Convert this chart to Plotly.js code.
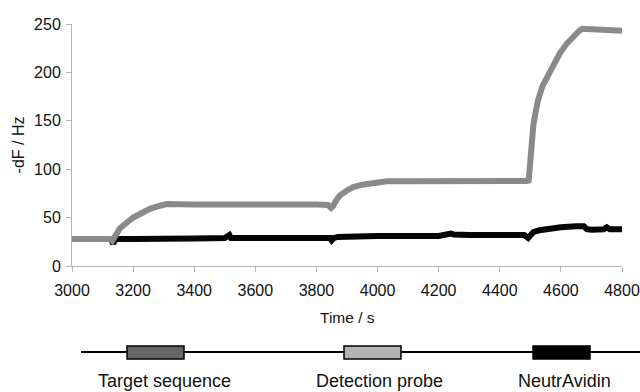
<!DOCTYPE html>
<html>
<head>
<meta charset="utf-8">
<script src="https://cdn.plot.ly/plotly-3.0.1.min.js"></script>
<style>html,body{margin:0;padding:0;background:#fff;}#chart{width:640px;height:392px;}</style>
</head>
<body>
<div id="chart"></div>
<script>
// Sensor response (gray) : time (s) and -dF (Hz)
var grayTime = [3000, 3050, 3100, 3125, 3132, 3140, 3157, 3180, 3200, 3230, 3255, 3285, 3310, 3400, 3500, 3600, 3700, 3800, 3838, 3848, 3855, 3865, 3877, 3900, 3920, 3950, 3975, 4000, 4030, 4100, 4200, 4300, 4400, 4490, 4494, 4497, 4500, 4505, 4510, 4518, 4525, 4540, 4554, 4575, 4597, 4620, 4640, 4660, 4670, 4700, 4750, 4800];
var grayVal  = [28, 28, 28, 28, 26, 30, 39, 45, 50, 55, 59, 62, 64, 63.5, 64, 63.5, 63.5, 63.5, 63, 60, 62, 68, 73, 78, 81.5, 84, 85.5, 86.5, 87.5, 87.5, 88, 87.5, 88, 88, 86, 100, 115, 132, 146, 160, 171, 186, 195, 209, 220, 230, 237, 243, 245, 244.5, 244, 243];
// Control (black)
var blackTime = [3130, 3135, 3140, 3150, 3200, 3250, 3300, 3400, 3500, 3515, 3520, 3600, 3700, 3800, 3845, 3850, 3858, 3870, 3900, 4000, 4050, 4100, 4200, 4240, 4250, 4300, 4400, 4480, 4493, 4500, 4510, 4530, 4560, 4600, 4650, 4675, 4685, 4700, 4740, 4750, 4760, 4800];
var blackVal  = [26, 23, 27, 28, 28, 28.5, 28.5, 28.5, 29, 32, 29, 29, 29, 29, 29, 26.5, 29, 30, 30.5, 31, 31, 31, 31, 33.5, 32.5, 32, 32, 32, 29, 32, 35, 37, 38.5, 40, 41, 41, 38, 37.5, 38, 40, 38, 38];
// Injection steps
var stepLabels = ['Target sequence', 'Detection probe', 'NeutrAvidin'];
var stepColors = ['#666666', '#b3b3b3', '#000000'];
var xTicks = [3000, 3200, 3400, 3600, 3800, 4000, 4200, 4400, 4600, 4800];
var yTicks = [0, 50, 100, 150, 200, 250];

var L = 72, R = 18, T = 24, B = 126, W = 640, H = 392;
var pw = W - L - R, ph = H - T - B;
function px(x) { return (x - L) / pw; }
function py(y) { return (H - B - y) / ph; }

var traces = [
  {x: blackTime, y: blackVal, mode: 'lines', line: {color: '#050505', width: 6}, hoverinfo: 'skip'},
  {x: grayTime, y: grayVal, mode: 'lines', line: {color: '#8a8a8a', width: 6}, hoverinfo: 'skip'}
];

var shapes = [{type: 'line', xref: 'paper', yref: 'paper', x0: px(81), x1: px(640), y0: py(352), y1: py(352), line: {color: '#000', width: 2}}];
var boxX = [127, 344, 533];
var labX = [164, 379, 564];
var annotations = [];
for (var i = 0; i < stepLabels.length; i++) {
  shapes.push({type: 'rect', xref: 'paper', yref: 'paper', x0: px(boxX[i]), x1: px(boxX[i] + 57), y0: py(359), y1: py(346), fillcolor: stepColors[i], line: {color: '#000', width: 1.5}});
  annotations.push({xref: 'paper', yref: 'paper', x: px(labX[i]), y: py(391.5), text: stepLabels[i], showarrow: false, xanchor: 'center', yanchor: 'bottom', borderpad: 0, font: {family: 'Liberation Sans, Arial, sans-serif', size: 18, color: '#111'}});
}
annotations.push({xref: 'paper', yref: 'paper', x: px(347), y: py(317), text: 'Time / s', showarrow: false, xanchor: 'center', yanchor: 'middle', font: {family: 'Liberation Sans, Arial, sans-serif', size: 15.5, color: '#111'}});

var layout = {
  width: W, height: H,
  margin: {l: L, r: R, t: T, b: B},
  paper_bgcolor: '#fff', plot_bgcolor: '#fff',
  showlegend: false,
  font: {family: 'Liberation Sans, Arial, sans-serif', size: 16, color: '#111'},
  xaxis: {range: [3000, 4800], tickvals: xTicks, ticktext: xTicks.map(String), showgrid: false, zeroline: false, showline: true, linecolor: '#b5b5b5', linewidth: 1, ticks: 'outside', ticklen: 5, tickcolor: '#b5b5b5', tickfont: {size: 16}, ticklabelstandoff: 5},
  yaxis: {range: [0, 250], tickvals: yTicks, ticktext: yTicks.map(String), showgrid: false, zeroline: false, showline: true, linecolor: '#b5b5b5', linewidth: 1, ticks: 'outside', ticklen: 5, tickcolor: '#b5b5b5', tickfont: {size: 16}, ticklabelstandoff: 2, title: {text: '-dF / Hz', font: {size: 16}, standoff: 5}},
  shapes: shapes,
  annotations: annotations
};
Plotly.newPlot('chart', traces, layout, {staticPlot: true, displayModeBar: false});
</script>
</body>
</html>
